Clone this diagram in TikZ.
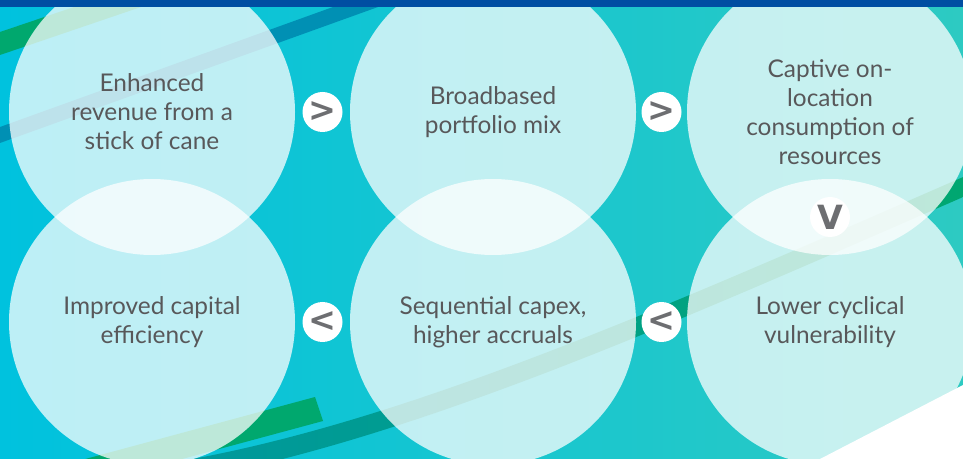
\documentclass[tikz,border=0pt]{standalone}
\usepackage{fontspec}
\setmainfont{Lato}
\newfontfamily\chevfont{DejaVu Sans}
\usetikzlibrary{calc}
\definecolor{bgleft}{HTML}{00C2DE}
\definecolor{bgright}{HTML}{2DCAC2}
\definecolor{banner}{HTML}{004EA2}
\definecolor{stripeteal}{HTML}{0090B4}
\definecolor{stripegreen}{HTML}{00A86E}
\definecolor{labelgray}{HTML}{58585A}
\definecolor{chevgray}{HTML}{6D6E71}
\tikzset{every picture/.style={line width=0.75pt}}
\tikzset{
  bubble/.style={circle, fill=white, fill opacity=0.74, text opacity=1, minimum size=214.5pt, inner sep=0pt, align=center, text=labelgray, font=\fontsize{18.3}{21.75}\selectfont},
  chev/.style={circle, fill=white, minimum size=30pt, inner sep=0pt, text=chevgray, font=\chevfont\bfseries\fontsize{25}{25}\selectfont}
}
\begin{document}
\begin{tikzpicture}[x=0.75pt,y=0.75pt,yscale=-1,xscale=1]
    \useasboundingbox (0,0) rectangle (963,459);
    % Background
    \shade [left color=bgleft, middle color=bgright!10!bgleft, right color=bgright] (0,0) rectangle (963,459);
    \begin{scope}
    \clip (0,0) rectangle (963,459);
    % Stripes
    \fill [stripegreen] (0,32) -- (74,7) -- (141,7) -- (0,55) -- cycle;
    \fill [stripeteal] (0,127) -- (333,7) -- (378,7) -- (0,143) -- cycle;
    \fill [stripegreen] (315,397) -- (323,421) -- (60,492) -- (52,468) -- cycle;
    \shade [left color=stripeteal!70!stripegreen, right color=stripegreen] (150,466) .. controls (400,430) and (700,291) .. (1000,161) -- (1000,181) .. controls (700,311) and (400,450) .. (150,486) -- cycle;
    \fill [white] (820,459) -- (963,385) -- (963,459) -- cycle;
    \end{scope}
    % Text Node
    \node [bubble] (b1) at (152,112) {Enhanced\\revenue from a\\stick of cane};
    % Text Node
    \node [bubble] (b2) at (493,112) {Broadbased\\portfolio mix};
    % Text Node
    \node [bubble] (b3) at (830,112) {Captive on-\\location\\consumption of\\resources};
    % Text Node
    \node [bubble] (b4) at (152,322) {Improved capital\\efficiency};
    % Text Node
    \node [bubble] (b5) at (493,322) {Sequential capex,\\higher accruals};
    % Text Node
    \node [bubble] (b6) at (830,322) {Lower cyclical\\vulnerability};
    % Chevrons
    \node [chev] (c12) at ($(b1)!0.5!(b2)$) {>};
    \node [chev] (c23) at ($(b2)!0.5!(b3)$) {>};
    \node [chev] (c36) at ($(b3)!0.5!(b6)$) {V};
    \node [chev] (c65) at ($(b6)!0.5!(b5)$) {<};
    \node [chev] (c54) at ($(b5)!0.5!(b4)$) {<};
    % Banner
    \fill [banner] (0,0) rectangle (963,7);
\end{tikzpicture}
\end{document}
